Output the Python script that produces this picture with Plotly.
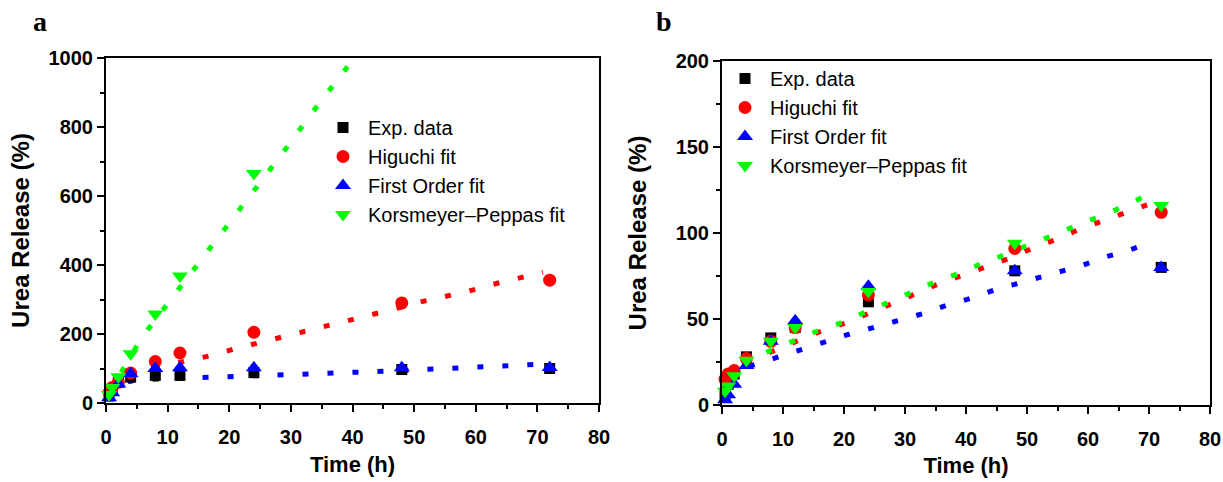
import plotly.graph_objects as go

# ---------------- data ----------------
times = [0.5, 1, 2, 4, 8, 12, 24, 48, 72]

# panel a
a_exp = [20, 40, 60, 75, 80, 80, 88, 97, 100]
a_hig = [30, 45, 60, 87, 120, 145, 205, 290, 356]
a_fo = [15, 30, 55, 85, 100, 102, 102, 102, 103]
a_kp = [25, 45, 76, 143, 258, 368, 665, None, None]

a_kp_line_t = [0.5, 1, 2, 4, 5.8, 8.3, 13.3, 18.3, 23.5, 28.6, 33.6, 38.6, 39.2]
a_kp_line_y = [25, 42, 75, 135, 190, 248, 364, 484, 603, 723, 845, 962, 975]
a_hig_line_t = [0.5, 1, 2, 5.0, 8.8, 13.0, 16.9, 20.9, 25.0, 29.1, 33, 37, 41, 45.1, 50.8, 54.7, 58.8, 62.8, 66.9, 70.9]
a_hig_line_y = [40, 50, 62, 85, 105, 120, 137, 157, 175, 192, 210, 228, 247, 265, 292, 306, 324, 344, 362, 379]
a_fo_line_t = [0.5, 1, 2, 5, 9.1, 13.3, 17.4, 21.6, 29.5, 46.4, 50.8, 54.9, 59.1, 63.3, 67.4, 71.4]
a_fo_line_y = [20, 35, 55, 67, 70, 73, 76, 79, 82, 93, 96, 99, 102, 105, 108, 113]

# panel b
b_exp = [5, 12, 18, 28, 39, 45, 60, 78, 80]
b_hig = [15, 18, 20, 27, 37, 45, 64, 91, 112]
b_fo = [3, 6, 12, 23, 37, 49, 69, 78, 80]
b_kp = [8, 11, 17, 26, 37, 45, 66, 94, 116]

b_kp_line_t = [0.5, 2, 4, 8.2, 12.3, 15.6, 20.5, 24, 27.5, 31.3, 35.2, 39.2, 43, 46.9, 50.8, 54.6, 58.5, 62.3, 66.2, 70.2]
b_kp_line_y = [15, 20, 26, 32, 38, 43, 49, 55, 60, 66, 72, 77, 83, 88, 94, 99, 105, 110, 116, 123]
b_hig_line_t = [0.5, 2, 4, 8.2, 12.3, 15.6, 20.5, 24, 27.5, 31.3, 35.2, 39.2, 43, 46.9, 50.8, 54.6, 58.5, 62.3, 66.2, 70.2]
b_hig_line_y = [17, 20, 25, 31, 37, 42, 48, 53, 58, 64, 70, 75, 80, 85, 91, 96, 102, 107, 112, 117]
b_fo_line_t = [0.5, 4, 8.7, 12.6, 16.7, 20.7, 24.8, 28.7, 32.8, 36.9, 40.8, 44.8, 48.9, 54.8, 58.9, 62.8, 66.7, 70.8]
b_fo_line_y = [18, 22, 28, 32, 36.6, 41, 45, 49, 53, 58, 62, 67, 71, 77, 81, 86, 90, 95]

names = ["Exp. data", "Higuchi fit", "First Order fit", "Korsmeyer\u2013Peppas fit"]
colors = ["#000000", "#ff0000", "#0000ff", "#00ff00"]
symbols = ["square", "circle", "triangle-up", "triangle-down"]
sizes = [11, 13, 14, 14]

FONT = "Liberation Sans"
fig = go.Figure()

DASH = "6px,19px"


def add_panel(xa, ya, pts, lines, legend):
    for (lt, ly), c in zip(lines, colors[1:]):
        fig.add_trace(go.Scatter(x=lt, y=ly, mode="lines", xaxis=xa, yaxis=ya,
                                 line=dict(color=c, width=5, dash=DASH),
                                 showlegend=False, hoverinfo="skip"))
    for i, (vals, nm) in enumerate(zip(pts, names)):
        fig.add_trace(go.Scatter(x=times, y=vals, mode="markers", name=nm,
                                 xaxis=xa, yaxis=ya, legend=legend,
                                 legendgroup=legend + str(i),
                                 marker=dict(color=colors[i], symbol=symbols[i], size=sizes[i],
                                             line=dict(width=0)),
                                 cliponaxis=False))


add_panel("x", "y", [a_exp, a_hig, a_fo, a_kp],
          [(a_hig_line_t, a_hig_line_y), (a_fo_line_t, a_fo_line_y), (a_kp_line_t, a_kp_line_y)],
          "legend")
add_panel("x2", "y2", [b_exp, b_hig, b_fo, b_kp],
          [(b_hig_line_t, b_hig_line_y), (b_fo_line_t, b_fo_line_y), (b_kp_line_t, b_kp_line_y)],
          "legend2")

tickfont = dict(family=FONT, size=20, color="black", weight="bold")


def axis(domain, rng, dtick, minor, title, anchor, standoff, tsize, lblgap=0):
    return dict(domain=domain, range=rng, dtick=dtick, tick0=0, anchor=anchor,
                automargin=False, ticklabelstandoff=lblgap,
                showline=True, linewidth=2, linecolor="black", mirror=True,
                ticks="outside", ticklen=7, tickwidth=2, tickcolor="black",
                minor=dict(ticks="outside", ticklen=4, tickwidth=2, tickcolor="black", dtick=minor, tick0=0),
                showgrid=False, zeroline=False, tickfont=tickfont,
                title=dict(text=title, standoff=standoff,
                           font=dict(family=FONT, size=tsize, color="black", weight="bold")))


legfont = dict(family=FONT, size=20, color="black")

fig.update_layout(
    width=1223, height=482,
    margin=dict(l=0, r=0, t=0, b=0),
    paper_bgcolor="white", plot_bgcolor="white",
    xaxis=axis([106 / 1223, 599 / 1223], [0, 80], 10, 5, "Time (h)", "y", 10, 22, 8),
    yaxis=axis([1 - 403 / 482, 1 - 58 / 482], [0, 1000], 200, 100, "Urea Release (%)", "x", 12, 24),
    xaxis2=axis([722 / 1223, 1210 / 1223], [0, 80], 10, 5, "Time (h)", "y2", 9, 22, 8),
    yaxis2=axis([1 - 405 / 482, 1 - 61 / 482], [0, 200], 50, 25, "Urea Release (%)", "x2", 22, 24),
    legend=dict(x=318 / 1223, y=1 - 108 / 482, xanchor="left", yanchor="top", itemwidth=40,
                font=legfont, bgcolor="rgba(0,0,0,0)", tracegroupgap=0, traceorder="grouped"),
    legend2=dict(x=720 / 1223, y=1 - 59 / 482, xanchor="left", yanchor="top", itemwidth=40,
                 font=legfont, bgcolor="rgba(0,0,0,0)", tracegroupgap=0, traceorder="grouped"),
    annotations=[
        dict(text="a", x=40 / 1223, y=1 - 22 / 482, xref="paper", yref="paper", showarrow=False,
             xanchor="center", yanchor="middle",
             font=dict(family="Liberation Serif", size=28, color="black", weight="bold")),
        dict(text="b", x=664 / 1223, y=1 - 22 / 482, xref="paper", yref="paper", showarrow=False,
             xanchor="center", yanchor="middle",
             font=dict(family="Liberation Serif", size=28, color="black", weight="bold")),
    ],
)

fig.write_html("out.html")
